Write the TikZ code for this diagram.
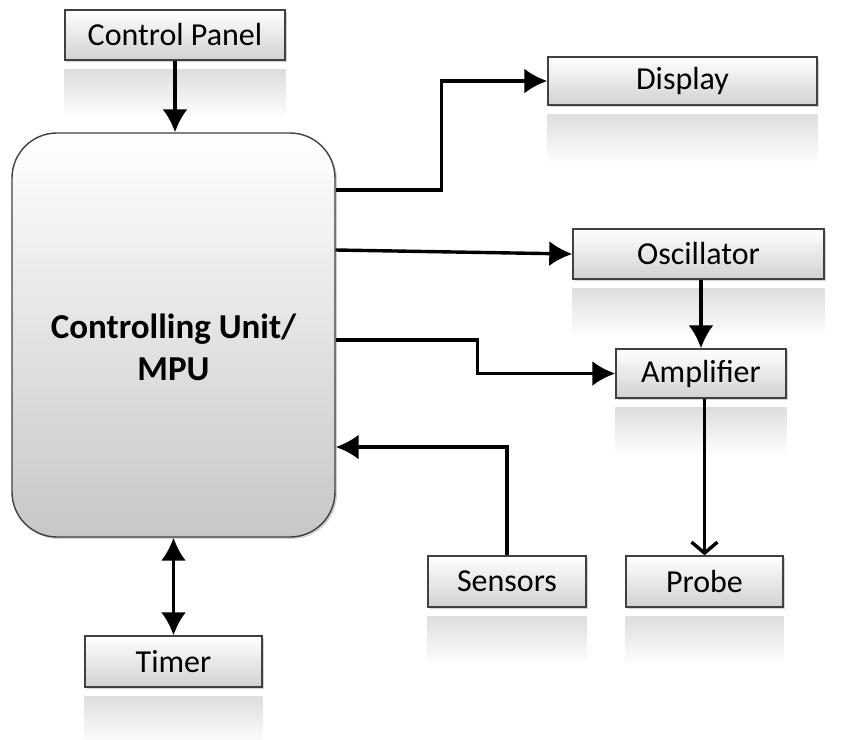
\documentclass[tikz,border=0pt]{standalone}
\usepackage{fontspec}
\setmainfont{Carlito}
\usetikzlibrary{arrows.meta,shadows}
\tikzset{
  blk/.style={draw=black!75,line width=1.4pt,top color=white,bottom color=black!18,
    drop shadow={opacity=0.35,shadow xshift=2pt,shadow yshift=-2pt},
    font=\fontsize{32}{36}\selectfont,inner sep=0pt},
  arr/.style={line width=3.4pt,-{Latex[length=23pt,width=25pt]}},
  arrboth/.style={line width=3.4pt,{Latex[length=23pt,width=25pt]}-{Latex[length=23pt,width=25pt]}},
  arrbarb/.style={line width=3.4pt,-{Straight Barb[length=11pt,width=26pt]}}
}
\newcommand{\refl}[1]{\shade[top color=black!13,bottom color=white]
  ([yshift=-9pt]#1.south west) rectangle ([yshift=-58pt]#1.south east);}
\begin{document}
\begin{tikzpicture}[x=1pt,y=-1pt]
\useasboundingbox (0,0) rectangle (843,739);
% ---- bloki ----
\node[blk,minimum width=220pt,minimum height=50pt] (cp) at (175,35) {Control Panel};
\node[blk,minimum width=269pt,minimum height=48pt] (disp) at (682.5,81) {Display};
\node[blk,minimum width=251pt,minimum height=50pt] (osc) at (698.5,254) {Oscillator};
\node[blk,minimum width=170pt,minimum height=49pt] (amp) at (701,373.5) {Amplifier};
\node[blk,minimum width=158pt,minimum height=51pt] (sens) at (507,581.5) {Sensors};
\node[blk,minimum width=157pt,minimum height=51pt] (prb) at (704.5,581.5) {Probe};
\node[blk,minimum width=177pt,minimum height=51pt] (tmr) at (173.5,661.5) {Timer};
% odbicia
\foreach \b in {cp,disp,osc,amp,sens,prb,tmr} {\refl{\b}}
% jednostka sterujaca
\node[blk,minimum width=323pt,minimum height=404pt,rounded corners=45pt,
  bottom color=black!22,align=center,font=\fontsize{35}{42}\selectfont\bfseries]
  (cu) at (173.5,335) {\rule{0pt}{50pt}Controlling Unit/\\MPU};
% ---- polaczenia ----
\draw[arr] (cp.south) -- (cp.south |- cu.north);
\draw[arr] ([yshift=145pt]cu.east) -- ++(106,0) |- (disp.west);
\draw[arr] ([yshift=85pt]cu.east) -- (osc.west);
\draw[arr] ([yshift=-5pt]cu.east) -- ++(142,0) |- (amp.west);
\draw[arr] (amp.north |- osc.south) -- (amp.north);
\draw[arrbarb] (prb.north |- amp.south) -- (prb.north);
\draw[arr] (sens.north) |- ([yshift=-112pt]cu.east);
\draw[arrboth] (cu.south) -- (cu.south |- tmr.north);
\end{tikzpicture}
\end{document}
